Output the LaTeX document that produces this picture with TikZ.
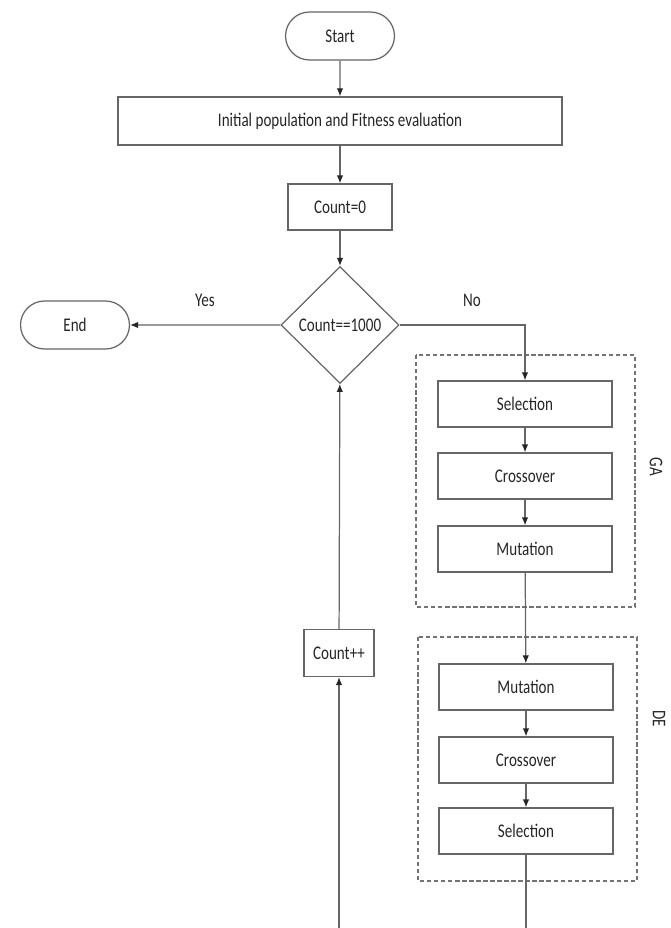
\documentclass[tikz,border=0pt]{standalone}
\usepackage{fontspec}
\setmainfont{Carlito}[FakeStretch=0.78]
\usetikzlibrary{shapes.geometric}
\usetikzlibrary{shapes.misc}
\usetikzlibrary{arrows.meta}

\tikzset{
  box/.style={draw=black!60, line width=0.7pt, text=black!85, inner sep=2pt,
    font=\fontsize{11}{13}\selectfont},
  proc/.style={box, minimum width=3.48cm, minimum height=0.92cm},
  term/.style={box, rounded rectangle, minimum width=2.32cm, minimum height=0.96cm},
  flow/.style={draw=black!60, line width=0.7pt, -{Latex[length=1.6mm, width=1.3mm, color=black!85]}},
  plain/.style={draw=black!60, line width=0.7pt},
  group/.style={draw=black!55, line width=0.7pt, dash pattern=on 2.5pt off 1.5pt},
  lbl/.style={text=black!85, font=\fontsize{11}{13}\selectfont}
}

\begin{document}
\begin{tikzpicture}[x=0.02cm, y=-0.02cm]
      \useasboundingbox (0, 0) rectangle (670, 928);

      % main column
      \node[term] (start) at (340, 36) {Start};
      \node[box, minimum width=8.88cm, minimum height=0.96cm] (init) at (340, 121) {Initial population and Fitness evaluation};
      \node[box, minimum width=2.08cm, minimum height=0.92cm] (countZero) at (340, 207) {Count=0};
      \node[box, diamond, inner sep=0pt, minimum width=2.36cm, minimum height=2.34cm] (check) at (340, 325) {Count==1000};
      \node[term] (stop) at (75, 325) {End};
      \node[box, minimum width=1.4cm, minimum height=0.94cm] (countInc) at (339, 653) {Count++};

      % GA block
      \draw[group] (416, 355) rectangle (635, 607);
      \node[proc] (gaSel) at (525, 404) {Selection};
      \node[proc] (gaCross) at (525, 476) {Crossover};
      \node[proc] (gaMut) at (525, 549) {Mutation};
      \node[lbl, rotate=-90] (gaName) at (656, 467) {GA};

      % DE block
      \draw[group] (418, 637) rectangle (637, 881);
      \node[proc] (deMut) at (526, 687) {Mutation};
      \node[proc] (deCross) at (526, 760) {Crossover};
      \node[proc] (deSel) at (526, 831) {Selection};
      \node[lbl, rotate=-90] (deName) at (659, 719) {DE};

      \node[lbl] (yes) at (205, 300) {Yes};
      \node[lbl] (no) at (472, 300) {No};

      \coordinate (noTurn) at (525, 325);
      \coordinate (deOut) at (526, 928);
      \coordinate (loopIn) at (339, 928);

      \draw[flow] (start) -- (init);
      \draw[flow] (init) -- (countZero);
      \draw[flow] (countZero) -- (check);
      \draw[flow] (check) -- (stop);
      \draw[flow] (check.east) -- (noTurn) -- (gaSel.north);
      \draw[flow] (gaSel) -- (gaCross);
      \draw[flow] (gaCross) -- (gaMut);
      \draw[flow] (gaMut) -- (deMut);
      \draw[flow] (deMut) -- (deCross);
      \draw[flow] (deCross) -- (deSel);
      \draw[plain] (deSel) -- (deOut);
      \draw[flow] (loopIn) -- (countInc);
      \draw[flow] (countInc) -- (check);
    \end{tikzpicture}
\end{document}
